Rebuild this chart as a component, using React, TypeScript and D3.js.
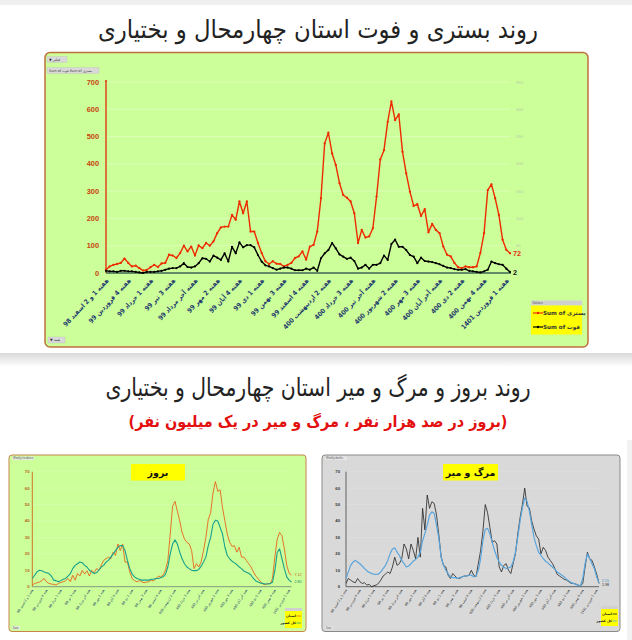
import React from "react";
import * as d3 from "d3";

// ---------- DATA ----------
const weekLabels = [
  "هفته 1 و 2 اسفند 98", "هفته 4 فروردین 99", "هفته 1 خرداد 99", "هفته 3 تیر 99",
  "هفته آخر مرداد 99", "هفته 2 مهر 99", "هفته 4 آبان 99", "هفته 1 دی 99",
  "هفته 3 بهمن 99", "هفته 4 اسفند 99", "هفته 2 اردیبهشت 400", "هفته 3 خرداد 400",
  "هفته آخر تیر 400", "هفته 2 شهریور 400", "هفته 3 مهر 400", "هفته آخر آبان 400",
  "هفته 2 دی 400", "هفته 4 بهمن 400", "هفته 1 فروردین 1401",
];

// بستری (hospitalised, left axis)
const hospital = [
  12, 24, 30, 33, 37, 53, 37, 24, 27, 18, 9, 11, 21, 30, 22, 35, 37, 67, 64, 55,
  73, 100, 79, 97, 64, 101, 91, 110, 100, 116, 146, 167, 170, 170, 213, 195, 262, 219, 262, 152,
  152, 110, 73, 43, 33, 43, 34, 33, 24, 30, 37, 55, 61, 79, 49, 97, 103, 152,
  274, 475, 514, 438, 396, 329, 286, 276, 262, 219, 110, 158, 130, 134, 164, 280, 416, 450, 554, 629,
  560, 581, 444, 365, 298, 246, 252, 209, 234, 149, 180, 158, 146, 97, 67, 61, 37, 21, 18, 24,
  21, 21, 24, 73, 146, 304, 325, 274, 213, 122, 85, 72,
];

// فوت (deaths, right axis)
const deaths = [
  4, 3, 3, 2, 4, 4, 3, 3, 2, 1, 0, 2, 2, 2, 3, 4, 6, 8, 9, 9,
  12, 18, 11, 10, 12, 18, 27, 26, 21, 32, 28, 24, 36, 21, 48, 36, 56, 47, 51, 51,
  47, 33, 21, 14, 12, 9, 6, 8, 10, 10, 8, 5, 5, 5, 8, 6, 10, 4,
  27, 36, 42, 55, 45, 34, 30, 26, 28, 22, 8, 10, 15, 8, 15, 15, 18, 32, 24, 53,
  61, 48, 48, 42, 33, 30, 18, 28, 22, 21, 20, 18, 16, 13, 10, 9, 7, 6, 6, 7,
  4, 3, 2, 1, 3, 6, 21, 18, 16, 15, 8, 2,
];

// بروز استان / کشور (incidence per 100k)
const incProvince = [
  1, 2, 2.4, 2.8, 3.7, 5, 3, 2, 1.6, 1.4, 1, 2, 2.6, 3, 3.7, 5, 3, 7, 4, 8,
  6.5, 10, 7.7, 9.7, 6.5, 10, 8.5, 11, 10, 13, 16, 17, 18, 17, 21, 19, 26, 22, 26, 15,
  15, 9, 5, 3.7, 3, 3.7, 3, 2.4, 2.8, 3, 4, 3.4, 5, 6.5,
  6, 7, 10, 16, 32, 49, 52, 46, 40, 33, 29, 27, 26, 22, 11, 14, 12, 15, 22, 30, 41, 45, 57,
  64, 58, 59, 48, 40, 32, 27, 24.5, 25, 21, 24, 18, 18, 16, 14, 12, 9, 6.5, 4.7, 3,
  1.6, 1.2, 2, 1.6, 5, 18, 29, 33, 31, 23, 13, 8.2, 7.12,
];
const incCountry = [
  5, 7, 9, 10, 9.7, 9, 8.5, 8, 6.5, 4, 3.7, 3, 3.7, 4.5, 5, 6.5, 8, 11, 13, 14,
  15, 14.6, 13, 12, 10, 9, 8, 8.5, 10, 12, 13, 15, 16, 18, 20, 22, 24, 25, 25, 22,
  16, 11, 7.7, 6, 5, 4.5, 4, 4, 4, 4, 4.5, 4.5, 5, 5, 5.5,
  6, 7.5, 12, 20, 26, 28.5, 26, 21, 17, 14, 12, 11, 10, 9.8, 9.8, 10.5, 12.5, 15, 18, 25,
  30, 38, 40.5, 40, 36, 32, 24, 19, 17, 15.5, 14.5, 13.5, 12, 11, 9.5, 8.8, 8.2, 7, 5, 3.5,
  2.8, 2.2, 2, 1.6, 1.6, 2, 2.7, 9.8, 21, 23, 17, 11, 6, 4, 2.8,
];

// مرگ و میر استان / کشور (deaths per million)
const mortProvince = [
  2, 5, 4, 3, 2.4, 5, 3, 2, 2.4, 1, 1.4, 0, 0.6, 1, 2, 4, 6.5, 7.7, 9, 8,
  12, 18, 13, 14, 17, 26, 23, 17, 26, 22, 17, 30, 18, 47.7, 34.5, 55.8, 47.7, 51.7, 50.7, 43.6,
  31.4, 18, 13, 12, 7, 5, 8, 6.5, 5, 5, 6, 6.5, 6.5, 7, 10, 7,
  6, 14, 22, 34, 50, 45, 36, 27, 28, 26, 12, 9, 13, 14, 10, 8, 14, 20, 32, 42,
  50, 60, 49, 48, 40, 35, 31, 29, 20, 24, 22, 18, 16, 14, 11, 7.5, 6.5, 5.5, 4.5, 4,
  3, 2, 2, 1.6, 1, 0.4, 2, 12, 21, 17, 16, 12, 7.7, 1.98,
];
const mortCountry = [
  5, 9, 13, 15, 16, 15, 14, 12.6, 11, 9.7, 8.7, 8, 7.7, 7.5, 7.7, 9, 11, 13, 16, 20,
  23, 23.7, 21, 19, 16, 14, 12, 12.6, 14, 15.6, 16.6, 18, 21, 28, 32.5, 37.5, 43.6, 45.6, 44.6, 37.5,
  29.4, 18, 13, 10, 8, 6, 5.5, 5.5, 5, 5.5, 6, 6.5, 6.5, 7, 7, 6,
  6.5, 10, 17, 28, 35, 35.5, 32, 27, 22, 18, 15, 13, 12, 11, 11.5, 12, 15, 21, 30, 40,
  48, 54, 52, 46, 38, 30, 25, 21, 19, 17, 15.5, 14.5, 13, 12, 10.5, 9, 8, 7, 6, 4.5,
  3.5, 2.5, 2, 1.4, 0.8, 0.6, 5, 14, 20, 17, 14, 11, 6, 2.15,
];

const leftTicks = [0, 100, 200, 300, 400, 500, 600, 700];
const rightTicks = [50, 100, 150, 200, 250, 300, 350];
const smallTicks = [0, 10, 20, 30, 40, 50, 60, 70];

const mainTitle = "روند بستری و فوت استان چهارمحال و بختیاری";
const title2 = "روند بروز و مرگ و میر استان چهارمحال و بختیاری";
const subtitle = "(بروز در صد هزار نفر ، مرگ و میر در یک میلیون نفر)";

// ---------- STYLE ----------
const FA = "'DejaVu Sans', sans-serif";
const FAC = "'DejaVu Sans Condensed', 'DejaVu Sans', sans-serif";

type Series = { data: number[]; color: string; width: number };

function SmallPanel(p: {
  bx: number; bw: number; fill: string; stroke: string; xr: [number, number];
  yAxisColor: string; xAxisColor: string; tickColor: string; tickX: number; labelColor: string;
  title: string; tbx: number; tbw: number; series: Series[]; ends: { text: string; color: string; dy: number }[];
  lgx: number; lgy: number; names: string[]; corner: string; grid: string;
}) {
  const n = p.series[0].data.length;
  const x = d3.scaleLinear().domain([0, n - 1]).range(p.xr);
  const y = d3.scaleLinear().domain([0, 70]).range([586.7, 471.7]);
  const line = d3.line<number>().x((_, i) => x(i)).y((d) => y(d));
  return (
    <g>
      <rect x={p.bx} y={455} width={p.bw} height={176.5} rx={3} fill={p.fill} stroke={p.stroke} strokeWidth={1} />
      <rect x={p.bx + 3} y={456.5} width={22} height={3.5} fill="#e8e8e8" opacity={0.8} />
      <text x={p.bx + 4} y={459.4} fontSize={2.6} fill="#555" fontFamily="Arial, sans-serif">{p.corner}</text>
      <rect x={p.bx + 3} y={626} width={8} height={3.5} fill="#e8e8e8" opacity={0.8} />
      <text x={p.bx + 4} y={628.9} fontSize={2.6} fill="#555" fontFamily="Arial, sans-serif">Date</text>
      {smallTicks.slice(1).map((t) => (
        <line key={t} x1={p.xr[0]} x2={p.xr[1]} y1={y(t)} y2={y(t)} stroke={p.grid} strokeWidth={0.4} />
      ))}
      {smallTicks.map((t) => (
        <text key={t} x={p.tickX} y={y(t) + 1.5} fontSize={4.2} fill={p.tickColor} textAnchor="end" fontFamily="Arial, sans-serif" fontWeight="bold">{t}</text>
      ))}
      <line x1={p.xr[0]} x2={p.xr[0]} y1={y(0)} y2={y(70)} stroke={p.yAxisColor} strokeWidth={0.9} />
      <line x1={p.xr[0]} x2={p.xr[1]} y1={y(0)} y2={y(0)} stroke={p.xAxisColor} strokeWidth={0.9} />
      {weekLabels.map((l, k) => {
        const px = x(k * 6) + 1;
        const py = 590;
        return (
          <text key={k} x={px} y={py} fontSize={3.4} fill={p.labelColor} textAnchor="end" fontFamily={FAC}
            transform={`rotate(-58 ${px} ${py})`}>{l}</text>
        );
      })}
      {p.series.map((s, k) => (
        <path key={k} d={line(s.data) || ""} fill="none" stroke={s.color} strokeWidth={s.width} strokeLinejoin="round" />
      ))}
      {p.series.map((s, k) => (
        <text key={k} x={p.xr[1] + 3} y={y(s.data[n - 1]) + 1.3 + p.ends[k].dy} fontSize={3.6} fill={p.ends[k].color} fontFamily="Arial, sans-serif">{p.ends[k].text}</text>
      ))}
      <rect x={p.tbx} y={464} width={p.tbw} height={16.5} fill="#ffff00" />
      <text x={p.tbx + p.tbw / 2} y={475.5} fontSize={9.5} fontWeight="bold" textAnchor="middle" fontFamily={FA} fill="#111">{p.title}</text>
      <rect x={p.lgx} y={p.lgy} width={17} height={3} fill="#d0d0d0" />
      <rect x={p.lgx} y={p.lgy + 3} width={17} height={17} fill="#ffff00" />
      {p.names.map((nm, k) => (
        <g key={k}>
          <line x1={p.lgx + 11.5} x2={p.lgx + 16} y1={p.lgy + 8 + k * 7} y2={p.lgy + 8 + k * 7} stroke={p.series[k].color} strokeWidth={0.8} />
          <text x={p.lgx + 11} y={p.lgy + 9.2 + k * 7} fontSize={3.4} textAnchor="end" fontFamily={FA} fill="#222" fontWeight="bold">{nm}</text>
        </g>
      ))}
    </g>
  );
}

export default function App() {
  const n = hospital.length;
  const xT = d3.scaleLinear().domain([0, n - 1]).range([106, 510]);
  const yL = d3.scaleLinear().domain([0, 700]).range([273, 82]);
  const yR = d3.scaleLinear().domain([0, 350]).range([273, 82]);
  const lineH = d3.line<number>().x((_, i) => xT(i)).y((d) => yL(d));
  const lineD = d3.line<number>().x((_, i) => xT(i)).y((d) => yR(d));

  return (
    <div style={{ position: "absolute", left: 0, top: 0, width: 632, height: 640 }}>
      <svg width={632} height={640} viewBox="0 0 632 640" style={{ display: "block" }}>
        <defs>
          <linearGradient id="shadow" x1="0" y1="0" x2="0" y2="1">
            <stop offset="0" stopColor="#d9d9d9" />
            <stop offset="1" stopColor="#ffffff" />
          </linearGradient>
        </defs>
        <rect x={0} y={0} width={632} height={640} fill="#ffffff" />
        <rect x={0} y={0} width={632} height={5} fill="#efefef" />
        <rect x={0} y={353} width={632} height={14} fill="url(#shadow)" />

        {/* ---- top chart ---- */}
        <text x={318} y={38} fontSize={25} textAnchor="middle" fontFamily={FA} fill="#222"
          textLength={440} lengthAdjust="spacingAndGlyphs">{mainTitle}</text>
        <rect x={45} y={52.5} width={543} height={294.5} rx={5} fill="#ccff99" stroke="#c0703c" strokeWidth={1.5} />

        <rect x={47} y={56.5} width={20} height={6} fill="#d9d9d9" stroke="#b5b5b5" strokeWidth={0.3} />
        <text x={49} y={61} fontSize={3.6} fill="#333" fontFamily={FA}>▼ فیلتر</text>
        <rect x={47} y={67.5} width={52} height={6} fill="#d9d9d9" stroke="#b5b5b5" strokeWidth={0.3} />
        <text x={49} y={72} fontSize={3.4} fill="#333" fontFamily={FA}>Sum of فوت  Sum of بستری</text>
        <rect x={48} y={337} width={17} height={6} fill="#d9d9d9" stroke="#b5b5b5" strokeWidth={0.3} />
        <text x={50} y={341.4} fontSize={3.6} fill="#333" fontFamily={FA}>▼ همه</text>

        {leftTicks.slice(1).map((t) => (
          <line key={t} x1={106} x2={510} y1={yL(t)} y2={yL(t)} stroke="#e2ffc6" strokeWidth={0.7} />
        ))}
        {leftTicks.map((t) => (
          <text key={t} x={99} y={yL(t) + 2.6} fontSize={7.4} fontWeight="bold" textAnchor="end" fill="#c8420f" fontFamily="Arial, 'Liberation Sans', sans-serif">{t}</text>
        ))}
        {rightTicks.map((t) => (
          <text key={t} x={516} y={yR(t) + 1.5} fontSize={4.2} fill="#b9c9ad" fontFamily="Arial, 'Liberation Sans', sans-serif">{t}</text>
        ))}
        <line x1={106} x2={106} y1={yL(0)} y2={yL(700) - 1} stroke="#e03a10" strokeWidth={1.4} />
        <circle cx={106} cy={yL(700) - 1} r={1.1} fill="#e03a10" />
        <line x1={106} x2={511} y1={yL(0)} y2={yL(0)} stroke="#3f6656" strokeWidth={1.6} />

        {weekLabels.map((l, k) => {
          const px = xT(k * 6) + 3;
          const py = 281;
          return (
            <text key={k} x={px} y={py} fontSize={6.6} fontWeight="bold" fill="#1f3a6e" textAnchor="end" fontFamily={FAC}
              transform={`rotate(-47 ${px} ${py})`}>{l}</text>
          );
        })}

        <path d={lineH(hospital) || ""} fill="none" stroke="#ee2a00" strokeWidth={1.4} strokeLinejoin="round" />
        {hospital.map((v, i) => <circle key={i} cx={xT(i)} cy={yL(v)} r={1.15} fill="#ee2a00" />)}
        <path d={lineD(deaths) || ""} fill="none" stroke="#000" strokeWidth={1.4} strokeLinejoin="round" />
        {deaths.map((v, i) => <circle key={i} cx={xT(i)} cy={yR(v)} r={1.1} fill="#000" />)}

        <text x={513} y={yL(hospital[n - 1]) + 2.6} fontSize={7.2} fontWeight="bold" fill="#e03010" fontFamily="Arial, sans-serif">{hospital[n - 1]}</text>
        <text x={513} y={yR(deaths[n - 1]) + 2.6} fontSize={7.2} fontWeight="bold" fill="#111" fontFamily="Arial, sans-serif">{deaths[n - 1]}</text>

        {/* legend */}
        <rect x={531} y={300.5} width={51} height={5} fill="#d0d0d0" />
        <text x={532.5} y={304.3} fontSize={3.4} fill="#555" fontFamily="Arial, sans-serif">Values</text>
        <rect x={531} y={305.5} width={51} height={29} fill="#ffff00" />
        <line x1={533} x2={543} y1={313} y2={313} stroke="#ee2a00" strokeWidth={1.2} />
        <circle cx={538} cy={313} r={1.2} fill="#ee2a00" />
        <text x={543} y={315} fontSize={5.6} fontWeight="bold" fill="#333" fontFamily={FA}>Sum of بستری</text>
        <line x1={533} x2={543} y1={327} y2={327} stroke="#000" strokeWidth={1.2} />
        <circle cx={538} cy={327} r={1.2} fill="#000" />
        <text x={543} y={329} fontSize={5.6} fontWeight="bold" fill="#333" fontFamily={FA}>Sum of فوت</text>

        {/* ---- lower titles ---- */}
        <text x={318} y={396} fontSize={25} textAnchor="middle" fontFamily={FA} fill="#222"
          textLength={425} lengthAdjust="spacingAndGlyphs">{title2}</text>
        <text x={318} y={427} fontSize={16} textAnchor="middle" fontFamily={FAC} fill="#e31010" fontWeight="bold">{subtitle}</text>

        <SmallPanel bx={9} bw={297} fill="#ccff99" stroke="#c8844a" xr={[32.3, 291.5]}
          yAxisColor="#d0641e" xAxisColor="#7b8f80" tickColor="#b85c1e" tickX={29.5} labelColor="#1f3a6e"
          title="بروز" tbx={131} tbw={54}
          series={[{ data: incProvince, color: "#e8641e", width: 0.9 }, { data: incCountry, color: "#17a08c", width: 1.1 }]}
          ends={[{ text: "7.12", color: "#c8541a", dy: 0 }, { text: "2.80", color: "#17806c", dy: 0 }]}
          lgx={285} lgy={608} names={["استان", "کل کشور"]} corner="Weekly Incidence" grid="#dfffbf" />
        <SmallPanel bx={322} bw={298} fill="#d9d9d9" stroke="#8a8a8a" xr={[346, 599]}
          yAxisColor="#555" xAxisColor="#555" tickColor="#333" tickX={340} labelColor="#333"
          title="مرگ و میر" tbx={443} tbw={55}
          series={[{ data: mortProvince, color: "#222", width: 0.8 }, { data: mortCountry, color: "#5aa5dc", width: 1.2 }]}
          ends={[{ text: "1.98", color: "#222", dy: 1.5 }, { text: "2.15", color: "#3a85bc", dy: -2.5 }]}
          lgx={601} lgy={606} names={["استان", "کل کشور"]} corner="Weekly deaths" grid="#e6e6e6" />
        <rect x={627} y={440} width={5} height={200} fill="#f2f2f2" />
      </svg>
    </div>
  );
}
